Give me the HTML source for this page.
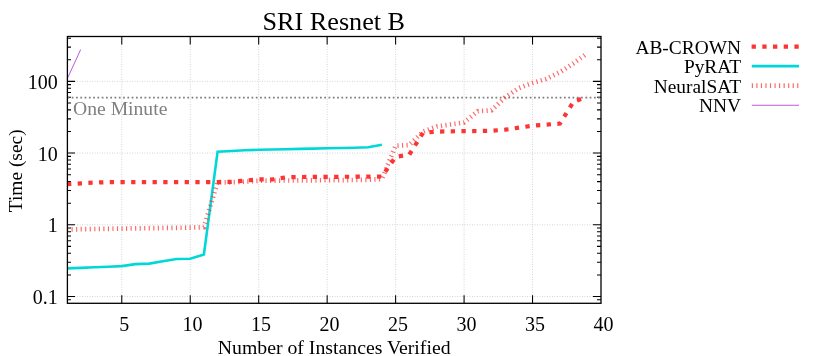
<!DOCTYPE html>
<html><head><meta charset="utf-8"><title>SRI Resnet B</title>
<style>html,body{margin:0;padding:0;background:#fff}svg{will-change:transform}</style></head>
<body>
<svg width="830" height="356" viewBox="0 0 830 356" style="display:block;font-family:'Liberation Serif',serif">
<rect width="830" height="356" fill="#fff"/>
<path d="M121.77,36.5 V303.3 M190.23,36.5 V303.3 M258.69,36.5 V303.3 M327.15,36.5 V303.3 M395.62,36.5 V303.3 M464.08,36.5 V303.3 M532.54,36.5 V303.3 M67.0,296.51 H601.0 M67.0,224.79 H601.0 M67.0,153.07 H601.0 M67.0,81.35 H601.0" stroke="#cccccc" stroke-width="0.85" stroke-dasharray="1 1.5" fill="none"/>
<path d="M121.77,303.3 v-8 M121.77,36.5 v8 M190.23,303.3 v-8 M190.23,36.5 v8 M258.69,303.3 v-8 M258.69,36.5 v8 M327.15,303.3 v-8 M327.15,36.5 v8 M395.62,303.3 v-8 M395.62,36.5 v8 M464.08,303.3 v-8 M464.08,36.5 v8 M532.54,303.3 v-8 M532.54,36.5 v8 M67.0,296.51 h8 M601.0,296.51 h-8 M67.0,224.79 h8 M601.0,224.79 h-8 M67.0,153.07 h8 M601.0,153.07 h-8 M67.0,81.35 h8 M601.0,81.35 h-8 M67.0,299.79 h4 M601.0,299.79 h-4 M67.0,274.92 h4 M601.0,274.92 h-4 M67.0,262.29 h4 M601.0,262.29 h-4 M67.0,253.33 h4 M601.0,253.33 h-4 M67.0,246.38 h4 M601.0,246.38 h-4 M67.0,240.70 h4 M601.0,240.70 h-4 M67.0,235.90 h4 M601.0,235.90 h-4 M67.0,231.74 h4 M601.0,231.74 h-4 M67.0,228.07 h4 M601.0,228.07 h-4 M67.0,203.20 h4 M601.0,203.20 h-4 M67.0,190.57 h4 M601.0,190.57 h-4 M67.0,181.61 h4 M601.0,181.61 h-4 M67.0,174.66 h4 M601.0,174.66 h-4 M67.0,168.98 h4 M601.0,168.98 h-4 M67.0,164.18 h4 M601.0,164.18 h-4 M67.0,160.02 h4 M601.0,160.02 h-4 M67.0,156.35 h4 M601.0,156.35 h-4 M67.0,131.48 h4 M601.0,131.48 h-4 M67.0,118.85 h4 M601.0,118.85 h-4 M67.0,109.89 h4 M601.0,109.89 h-4 M67.0,102.94 h4 M601.0,102.94 h-4 M67.0,97.26 h4 M601.0,97.26 h-4 M67.0,92.46 h4 M601.0,92.46 h-4 M67.0,88.30 h4 M601.0,88.30 h-4 M67.0,84.63 h4 M601.0,84.63 h-4 M67.0,59.76 h4 M601.0,59.76 h-4 M67.0,47.13 h4 M601.0,47.13 h-4 M67.0,38.17 h4 M601.0,38.17 h-4" stroke="#000" stroke-width="1.05" fill="none"/>
<path d="M67.5,97.56 H601.0" stroke="#7c7c7c" stroke-width="1.7" stroke-dasharray="1.7 2.58" fill="none"/>
<text x="73" y="115" font-size="19.65" fill="#808080">One Minute</text>
<path d="M67.0,184.2 L80.7,183.4 L94.4,182.6 L108.1,182.2 L121.8,182.1 L135.5,182.1 L149.2,182.1 L162.8,182.1 L176.5,182.1 L190.2,182.1 L203.9,182.1 L217.6,182.0 L231.3,181.8 L245.0,180.6 L258.7,179.3 L272.4,179.5 L286.1,177.3 L299.8,177.0 L313.5,176.9 L327.2,176.8 L340.8,176.8 L354.5,176.7 L368.2,176.6 L381.9,176.5 L395.6,156.9 L409.3,154.6 L423.0,132.8 L436.7,131.6 L450.4,131.3 L464.1,131.1 L477.8,131.0 L491.5,130.7 L505.2,129.7 L518.8,127.7 L532.5,125.7 L546.2,124.6 L559.9,123.6 L573.6,101.6 L587.3,97.0" stroke="#fc3434" stroke-width="4.2" stroke-dasharray="4.3 6.4" fill="none" stroke-linejoin="miter"/>
<path d="M67.0,268.4 L80.7,267.9 L94.4,267.3 L108.1,266.7 L121.8,266.1 L135.5,264.1 L149.2,263.6 L162.8,261.3 L176.5,259.0 L190.2,258.8 L203.9,254.5 L217.6,151.7 L231.3,151.0 L245.0,150.3 L258.7,149.8 L272.4,149.5 L286.1,149.2 L299.8,148.9 L313.5,148.6 L327.2,148.3 L340.8,148.0 L354.5,147.7 L368.2,147.3 L381.9,144.7" stroke="#00d8d8" stroke-width="2.6" fill="none" stroke-linejoin="miter"/>
<path d="M67.0,229.5 L80.7,229.2 L94.4,229.0 L108.1,228.8 L121.8,228.6 L135.5,228.4 L149.2,228.2 L162.8,228.0 L176.5,227.8 L190.2,227.6 L203.9,227.2 L217.6,182.5 L231.3,182.3 L245.0,181.7 L258.7,180.8 L272.4,180.6 L286.1,180.5 L299.8,180.4 L313.5,180.3 L327.2,180.2 L340.8,180.1 L354.5,180.0 L368.2,179.8 L381.9,179.0 L395.6,145.7 L409.3,145.0 L423.0,131.6 L436.7,126.5 L450.4,124.5 L464.1,122.5 L477.8,111.2 L491.5,110.3 L505.2,97.3 L518.8,88.0 L532.5,83.0 L546.2,78.9 L559.9,72.2 L573.6,63.3 L587.3,53.2" stroke="#fc3434" stroke-opacity="0.75" stroke-width="4.7" stroke-dasharray="1.15 3.39" fill="none"/>
<path d="M67.0,79.3 L80.7,49.5" stroke="#9400d3" stroke-width="0.65" fill="none"/>
<rect x="67.4" y="36.5" width="533.6" height="266.8" fill="none" stroke="#000" stroke-width="1.3"/>
<text x="124.2" y="330.9" font-size="20" text-anchor="middle">5</text>
<text x="192.6" y="330.9" font-size="20" text-anchor="middle">10</text>
<text x="261.1" y="330.9" font-size="20" text-anchor="middle">15</text>
<text x="329.6" y="330.9" font-size="20" text-anchor="middle">20</text>
<text x="398.0" y="330.9" font-size="20" text-anchor="middle">25</text>
<text x="466.5" y="330.9" font-size="20" text-anchor="middle">30</text>
<text x="534.9" y="330.9" font-size="20" text-anchor="middle">35</text>
<text x="603.4" y="330.9" font-size="20" text-anchor="middle">40</text>
<text x="57.7" y="304.1" font-size="20" text-anchor="end">0.1</text>
<text x="57.7" y="232.4" font-size="20" text-anchor="end">1</text>
<text x="57.7" y="160.7" font-size="20" text-anchor="end">10</text>
<text x="57.7" y="88.9" font-size="20" text-anchor="end">100</text>
<text x="334.2" y="353.9" font-size="19.75" text-anchor="middle">Number of Instances Verified</text>
<text transform="translate(21.9,170.8) rotate(-90)" font-size="19.4" text-anchor="middle">Time (sec)</text>
<text x="333.8" y="29.9" font-size="26.2" text-anchor="middle">SRI Resnet B</text>
<text x="741" y="53.6" font-size="19.4" text-anchor="end">AB-CROWN</text>
<text x="741" y="73.2" font-size="19.4" text-anchor="end">PyRAT</text>
<text x="741" y="92.7" font-size="19.4" text-anchor="end">NeuralSAT</text>
<text x="741" y="112.2" font-size="19.4" text-anchor="end">NNV</text>
<path d="M751.6,46.6 H799" stroke="#fc3434" stroke-width="4.2" stroke-dasharray="4.3 6.4" fill="none"/>
<path d="M751.8,66.15 H799" stroke="#00d8d8" stroke-width="2.6" fill="none"/>
<path d="M751.8,85.70 H799" stroke="#fc3434" stroke-opacity="0.75" stroke-width="4.7" stroke-dasharray="1.15 3.39" fill="none"/>
<path d="M751.8,105.25 H799" stroke="#9400d3" stroke-width="0.65" fill="none"/>
</svg>
</body></html>
